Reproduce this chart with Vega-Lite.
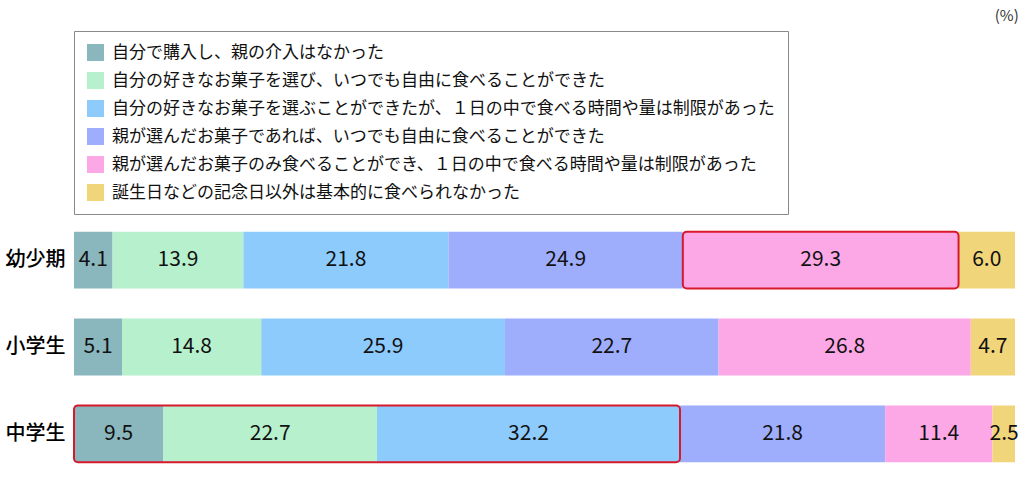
{
  "$schema": "https://vega.github.io/schema/vega-lite/v6.json",
  "autosize": {"type": "fit", "contains": "padding"},
  "width": 1024,
  "height": 480,
  "padding": {"left": 5, "right": 6, "top": 8, "bottom": 9},
  "background": "white",
  "title": {"text": "(%)", "anchor": "end", "fontSize": 15, "fontWeight": "normal", "font": "Noto Sans CJK JP", "color": "#333", "offset": 7},
  "config": {"view": {"stroke": null}, "font": "Noto Sans CJK JP"},
  "encoding": {
    "y": {
      "field": "cat", "type": "nominal",
      "sort": ["幼少期", "小学生", "中学生"],
      "scale": {"paddingInner": 0.345, "paddingOuter": 0.1},
      "axis": {"title": null, "domain": false, "ticks": false, "labelFontSize": 20, "labelFontWeight": 500, "labelColor": "#000", "labelPadding": 9, "labelFont": "Noto Sans CJK JP"}
    }
  },
  "layer": [
    {
      "data": {"values": [
        {"cat": "幼少期", "o": 1, "k": "自分で購入し、親の介入はなかった", "v": 4.1},
        {"cat": "幼少期", "o": 2, "k": "自分の好きなお菓子を選び、いつでも自由に食べることができた", "v": 13.9},
        {"cat": "幼少期", "o": 3, "k": "自分の好きなお菓子を選ぶことができたが、１日の中で食べる時間や量は制限があった", "v": 21.8},
        {"cat": "幼少期", "o": 4, "k": "親が選んだお菓子であれば、いつでも自由に食べることができた", "v": 24.9},
        {"cat": "幼少期", "o": 5, "k": "親が選んだお菓子のみ食べることができ、１日の中で食べる時間や量は制限があった", "v": 29.3},
        {"cat": "幼少期", "o": 6, "k": "誕生日などの記念日以外は基本的に食べられなかった", "v": 6.0},
        {"cat": "小学生", "o": 1, "k": "自分で購入し、親の介入はなかった", "v": 5.1},
        {"cat": "小学生", "o": 2, "k": "自分の好きなお菓子を選び、いつでも自由に食べることができた", "v": 14.8},
        {"cat": "小学生", "o": 3, "k": "自分の好きなお菓子を選ぶことができたが、１日の中で食べる時間や量は制限があった", "v": 25.9},
        {"cat": "小学生", "o": 4, "k": "親が選んだお菓子であれば、いつでも自由に食べることができた", "v": 22.7},
        {"cat": "小学生", "o": 5, "k": "親が選んだお菓子のみ食べることができ、１日の中で食べる時間や量は制限があった", "v": 26.8},
        {"cat": "小学生", "o": 6, "k": "誕生日などの記念日以外は基本的に食べられなかった", "v": 4.7},
        {"cat": "中学生", "o": 1, "k": "自分で購入し、親の介入はなかった", "v": 9.5},
        {"cat": "中学生", "o": 2, "k": "自分の好きなお菓子を選び、いつでも自由に食べることができた", "v": 22.7},
        {"cat": "中学生", "o": 3, "k": "自分の好きなお菓子を選ぶことができたが、１日の中で食べる時間や量は制限があった", "v": 32.2},
        {"cat": "中学生", "o": 4, "k": "親が選んだお菓子であれば、いつでも自由に食べることができた", "v": 21.8},
        {"cat": "中学生", "o": 5, "k": "親が選んだお菓子のみ食べることができ、１日の中で食べる時間や量は制限があった", "v": 11.4},
        {"cat": "中学生", "o": 6, "k": "誕生日などの記念日以外は基本的に食べられなかった", "v": 2.5}
      ]},
      "transform": [
        {"stack": "v", "groupby": ["cat"], "sort": [{"field": "o", "order": "ascending"}], "as": ["x0", "x1"]},
        {"calculate": "(datum.x0 + datum.x1) / 2", "as": "mid"}
      ],
      "layer": [
        {
          "mark": {"type": "bar"},
          "encoding": {
            "x": {"field": "x0", "type": "quantitative", "scale": {"domain": [0, 100], "clamp": true, "nice": false}, "axis": null},
            "x2": {"field": "x1"},
            "color": {
              "field": "k", "type": "nominal",
              "scale": {
                "domain": [
                  "自分で購入し、親の介入はなかった",
                  "自分の好きなお菓子を選び、いつでも自由に食べることができた",
                  "自分の好きなお菓子を選ぶことができたが、１日の中で食べる時間や量は制限があった",
                  "親が選んだお菓子であれば、いつでも自由に食べることができた",
                  "親が選んだお菓子のみ食べることができ、１日の中で食べる時間や量は制限があった",
                  "誕生日などの記念日以外は基本的に食べられなかった"
                ],
                "range": ["#8ab6bd", "#b6f0cd", "#8ecbfd", "#9eaefd", "#fda8e6", "#f1d57a"]
              },
              "legend": {
                "title": null, "orient": "top", "direction": "vertical", "columns": 1,
                "labelFontSize": 17, "labelFont": "Noto Sans CJK JP", "labelColor": "#111", "labelLimit": 1000, "labelOffset": 8,
                "symbolType": "square", "symbolSize": 289, "symbolStrokeWidth": 0, "symbolOpacity": 1,
                "rowPadding": 10, "padding": 13, "strokeColor": "#888", "offset": 9
              }
            },
            "order": {"field": "o", "type": "quantitative"}
          }
        },
        {
          "mark": {"type": "text", "fontSize": 21, "color": "#111", "font": "Noto Sans CJK JP"},
          "encoding": {
            "x": {"field": "mid", "type": "quantitative"},
            "text": {"field": "v", "type": "quantitative", "format": ".1f"}
          }
        }
      ]
    },
    {
      "data": {"values": [
        {"cat": "幼少期", "s": 64.7, "e": 94.0},
        {"cat": "中学生", "s": 0, "e": 64.4}
      ]},
      "mark": {"type": "rect", "fill": "transparent", "stroke": "#d7192b", "strokeWidth": 2, "cornerRadius": 4},
      "encoding": {
        "x": {"field": "s", "type": "quantitative"},
        "x2": {"field": "e"}
      }
    }
  ]
}
